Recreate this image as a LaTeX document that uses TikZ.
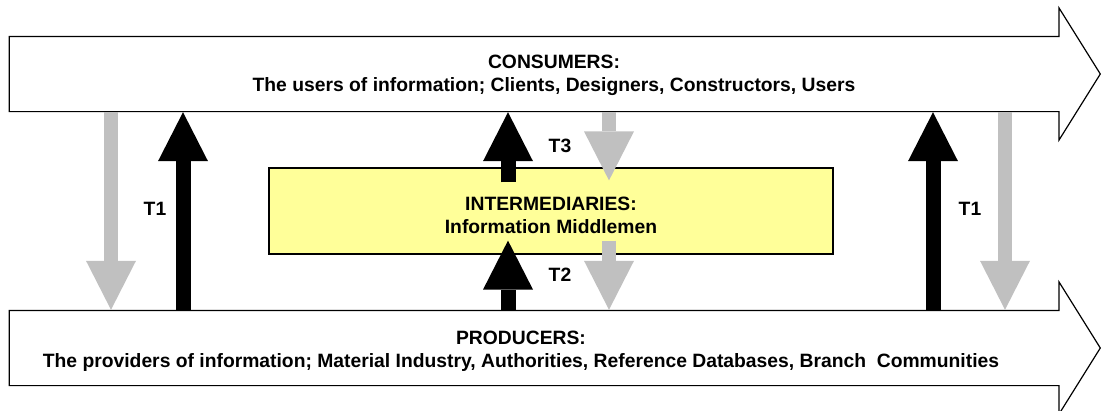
\documentclass[tikz,border=0pt]{standalone}
\usepackage{fontspec}
\setmainfont{Liberation Sans}
\usepackage{xcolor}
\usepackage{tikz}
\usetikzlibrary{shapes.arrows,arrows.meta}

\definecolor{flowgray}{RGB}{192,192,192}
\definecolor{middleyellow}{RGB}{255,255,153}

\begin{document}
\begin{tikzpicture}[x=1pt, y=-1pt, bigarrow/.style={single arrow, draw=black, line width=1.2pt, fill=white, minimum height=1091pt, single arrow head extend=28.5pt, single arrow tip angle=116, inner xsep=0pt, inner ysep=37pt}, middlebox/.style={rectangle, draw=black, line width=1.2pt, fill=middleyellow, minimum width=564pt, minimum height=86pt, align=center}, uparrow/.style={line width=15pt, draw=black, -{Triangle[width=50pt, length=49pt, line width=0pt]}}, downarrow/.style={line width=14pt, draw=flowgray, -{Triangle[width=50pt, length=49pt, line width=0pt]}}]

\tikzstyle{every node}=[font=\fontsize{19.3}{23}\selectfont\bfseries]

\useasboundingbox (0,0) rectangle (1101,410);

%Nodes
\node[bigarrow, anchor=tip]      (consumers)  at (1101,74)  {};
\node[bigarrow, anchor=tip]      (producers)  at (1101,348) {};
\node[align=center]      (consumerstext)  at (554,75.5) {CONSUMERS:\\The users of information; Clients, Designers, Constructors, Users};
\node[align=center]      (producerstext)  at (521,351) {PRODUCERS:\\The providers of information; Material Industry, Authorities, Reference Databases, Branch~~Communities};
\node[middlebox]      (intermediaries)  at (551,211) {\rule{0pt}{22.7pt}INTERMEDIARIES:\\Information Middlemen};
\coordinate (leftgray) at (111,0); % column of an arrow
\coordinate (leftblack) at (183,0);
\coordinate (midblack) at (508,0);
\coordinate (midgray) at (609,0);
\coordinate (rightblack) at (933,0);
\coordinate (rightgray) at (1005,0);

%Lines
\draw[downarrow] (consumers.south -| leftgray) -- (producers.north -| leftgray);
\draw[uparrow] (producers.north -| leftblack) -- (consumers.south -| leftblack) node[midway, xshift=-28pt, yshift=2pt] {T1};
\draw[uparrow] (producers.north -| rightblack) -- (consumers.south -| rightblack) node[midway, xshift=37pt, yshift=2pt] {T1};
\draw[downarrow] (consumers.south -| rightgray) -- (producers.north -| rightgray);
\draw[uparrow, shorten <=-15pt] (intermediaries.north -| midblack) -- (consumers.south -| midblack) node[midway, xshift=52pt, yshift=-6pt] {T3};
\draw[downarrow, shorten >=-13pt] (consumers.south -| midgray) -- (intermediaries.north -| midgray);
\draw[uparrow, shorten >=-14pt] (producers.north -| midblack) -- (intermediaries.south -| midblack) node[midway, xshift=52pt, yshift=7pt] {T2};
\draw[downarrow, shorten <=-14pt] (intermediaries.south -| midgray) -- (producers.north -| midgray);

\end{tikzpicture}
\end{document}
